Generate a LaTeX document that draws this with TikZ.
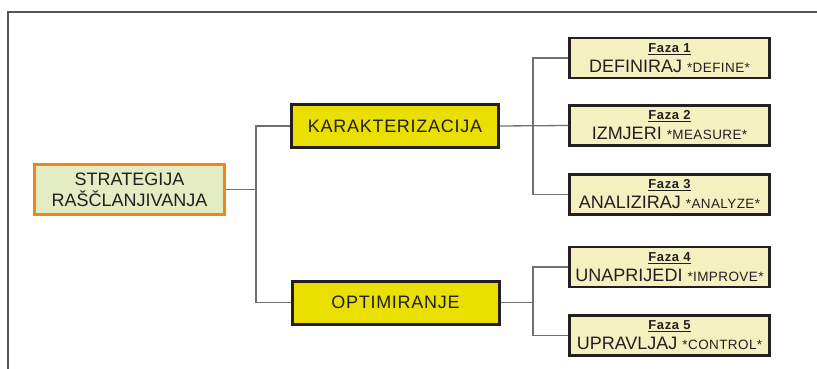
\documentclass[tikz,border=0pt]{standalone}
\usepackage{fontspec}
\setmainfont{Liberation Sans}
\definecolor{linegray}{HTML}{707070}
\definecolor{framegray}{HTML}{555555}
\definecolor{orangeB}{HTML}{F08519}
\definecolor{greenF}{HTML}{E3ECC3}
\definecolor{yellowF}{HTML}{E9E000}
\definecolor{paleF}{HTML}{F4F0C0}
\definecolor{darkB}{HTML}{231F20}
\definecolor{txt}{HTML}{231F20}
\newcommand\fzlabel[1]{{\fontsize{13}{13}\selectfont\bfseries\addfontfeature{LetterSpace=5}\underline{#1}}}
\newcommand\enword[1]{{\fontsize{13.5}{12}\selectfont\addfontfeature{LetterSpace=3}#1}}
\tikzset{
  conn/.style={draw=linegray, line width=1.3pt},
  rootbox/.style={draw=orangeB, fill=greenF, line width=3pt, minimum width=190pt, minimum height=50pt,
    inner sep=0pt, align=center, text=txt, font=\fontsize{18}{21}\selectfont},
  midbox/.style={draw=darkB, fill=yellowF, line width=3pt, minimum width=207pt, minimum height=43pt,
    inner sep=0pt, align=center, text=txt, font=\fontsize{18}{20}\selectfont\addfontfeature{LetterSpace=4}},
  phasebox/.style={draw=darkB, fill=paleF, line width=2.5pt, minimum width=200pt, minimum height=40pt,
    inner sep=0pt, align=center, text=txt, font=\fontsize{18}{20}\selectfont},
}
\begin{document}
\begin{tikzpicture}[x=1pt,y=-1pt]
\useasboundingbox (0,0) rectangle (817,369);
\draw[draw=framegray, line width=1.5pt] (8,369) -- (8,12) -- (817,12);

\node[rootbox] (S) at (129.5,189.5) {STRATEGIJA\\RAŠČLANJIVANJA};
\node[midbox] (K) at (395,126) {KARAKTERIZACIJA};
\node[midbox] (O) at (395.5,302.5) {OPTIMIRANJE};

\node[phasebox] (F1) at (669.5,58) {\fzlabel{Faza 1}\\DEFINIRAJ \enword{*DEFINE*}};
\node[phasebox] (F2) at (669.5,125.5) {\fzlabel{Faza 2}\\IZMJERI \enword{*MEASURE*}};
\node[phasebox] (F3) at (669.5,194.5) {\fzlabel{Faza 3}\\ANALIZIRAJ \enword{*ANALYZE*}};
\node[phasebox] (F4) at (669.5,267) {\fzlabel{Faza 4}\\UNAPRIJEDI \enword{*IMPROVE*}};
\node[phasebox] (F5) at (669.5,335.5) {\fzlabel{Faza 5}\\UPRAVLJAJ \enword{*CONTROL*}};

\coordinate (j0) at (256,189.5);
\coordinate (jK) at (533,125.5);
\coordinate (jO) at (533,302.5);

\draw[conn] (S.east) -- (j0);
\draw[conn] (K.west) -| (j0) |- (O.west);
\draw[conn] (K.east) -- (F2.west);
\draw[conn] (F1.west) -| (jK) |- (F3.west);
\draw[conn] (O.east) -- (jO);
\draw[conn] (F4.west) -| (jO) |- (F5.west);
\end{tikzpicture}
\end{document}
